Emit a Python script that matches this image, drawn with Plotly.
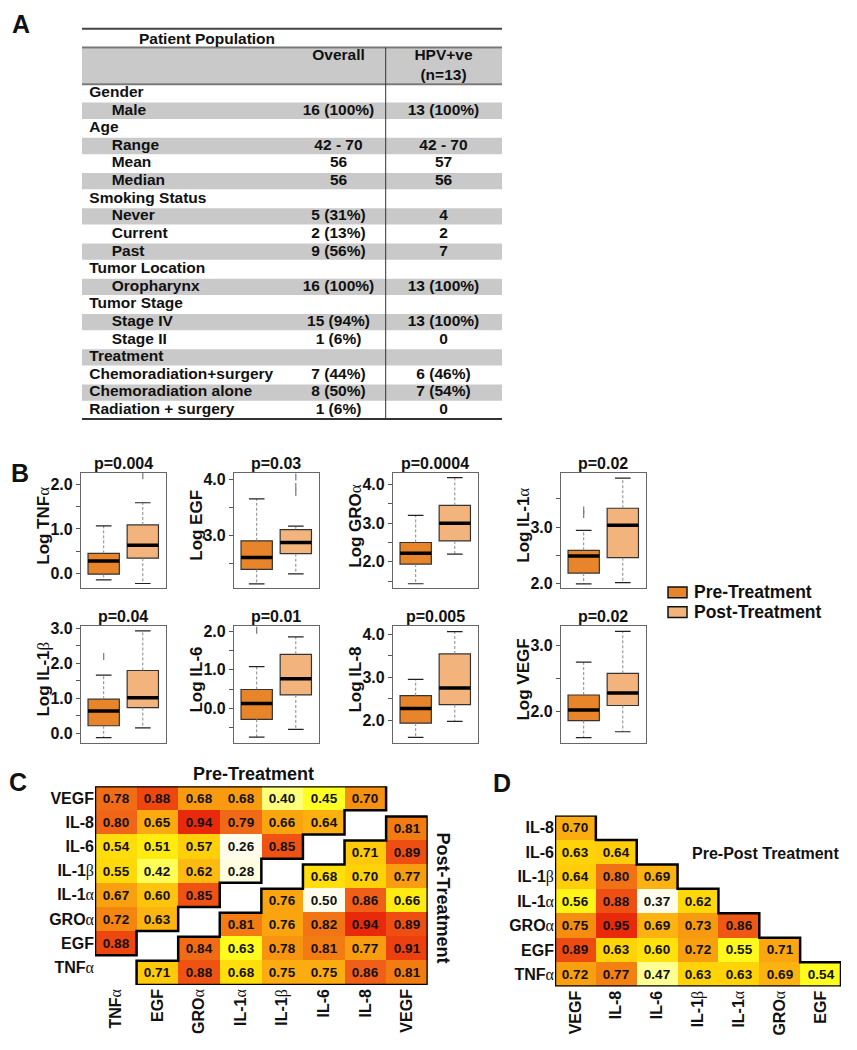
import plotly.graph_objects as go
from collections import defaultdict

W, H = 857, 1050
FONT = "Liberation Sans, Arial, sans-serif"
INK = "#111111"

# ---------------- data: panel A table ----------------
table_title = "Patient Population"
table_headers = ["Overall", "HPV+ve<br>(n=13)"]
table_labels = ["Gender", "Male", "Age", "Range", "Mean", "Median", "Smoking Status",
                "Never", "Current", "Past", "Tumor Location", "Oropharynx", "Tumor Stage",
                "Stage IV", "Stage II", "Treatment", "Chemoradiation+surgery",
                "Chemoradiation alone", "Radiation + surgery"]
table_indent = [0, 1, 0, 1, 1, 1, 0, 1, 1, 1, 0, 1, 0, 1, 1, 0, 0, 0, 0]
table_overall = ["", "16 (100%)", "", "42 - 70", "56", "56", "", "5 (31%)", "2 (13%)",
                 "9 (56%)", "", "16 (100%)", "", "15 (94%)", "1 (6%)", "", "7 (44%)",
                 "8 (50%)", "1 (6%)"]
table_hpv = ["", "13 (100%)", "", "42 - 70", "57", "56", "", "4", "2", "7", "",
             "13 (100%)", "", "13 (100%)", "0", "", "6 (46%)", "7 (54%)", "0"]

# ---------------- data: panel B box plots ----------------
box_names = ["TNFα", "EGF", "GROα", "IL-1α", "IL-1β", "IL-6", "IL-8", "VEGF"]
p_values = ["0.004", "0.03", "0.0004", "0.02", "0.04", "0.01", "0.005", "0.02"]
pre_low = [-0.15, 2.14, 1.43, 2.00, -0.12, -0.74, 1.60, 1.60]
pre_q1 = [-0.02, 2.40, 1.94, 2.19, 0.22, -0.28, 1.93, 1.86]
pre_med = [0.28, 2.61, 2.22, 2.49, 0.64, 0.13, 2.27, 2.02]
pre_q3 = [0.45, 2.91, 2.50, 2.59, 0.98, 0.49, 2.57, 2.25]
pre_high = [1.07, 3.66, 3.20, 2.94, 1.67, 1.08, 2.95, 2.75]
pre_out = [[], [], [], [3.22, 3.30], [2.20], [2.02], [], []]
post_low = [-0.23, 2.32, 2.20, 2.02, 0.16, -0.54, 1.97, 1.69]
post_q1 = [0.34, 2.68, 2.54, 2.46, 0.74, 0.35, 2.36, 2.09]
post_med = [0.63, 2.88, 3.00, 3.03, 1.02, 0.77, 2.75, 2.28]
post_q3 = [1.09, 3.11, 3.46, 3.33, 1.80, 1.40, 3.54, 2.58]
post_high = [1.59, 3.17, 4.18, 3.86, 2.93, 1.85, 4.06, 3.22]
post_out = [[2.20], [3.77, 3.88, 4.05], [], [], [], [], [], []]
y_ranges = [[-0.34, 2.26], [2.06, 4.12], [1.31, 4.30], [1.92, 3.95],
            [-0.27, 3.07], [-0.89, 2.13], [1.47, 4.19], [1.52, 3.30]]
y_ticks = [[0, 0.5, 1, 1.5, 2], [2.5, 3, 3.5, 4], [1.5, 2, 2.5, 3, 3.5, 4], [2, 2.5, 3, 3.5],
           [0, 0.5, 1, 1.5, 2, 2.5, 3], [-0.5, 0, 0.5, 1, 1.5, 2], [2, 2.5, 3, 3.5, 4],
           [2, 2.5, 3]]
groups = ["Pre-Treatment", "Post-Treatment"]

# ---------------- data: panel C correlation ----------------
c_names = ["TNFα", "EGF", "GROα", "IL-1α", "IL-1β", "IL-6", "IL-8", "VEGF"]
# pre-treatment (rows bottom->top, columns left of diagonal)
pre_corr = [
    [],
    [0.88],
    [0.72, 0.63],
    [0.67, 0.60, 0.85],
    [0.55, 0.42, 0.62, 0.28],
    [0.54, 0.51, 0.57, 0.26, 0.85],
    [0.80, 0.65, 0.94, 0.79, 0.66, 0.64],
    [0.78, 0.88, 0.68, 0.68, 0.40, 0.45, 0.70],
]
# post-treatment (rows bottom->top, columns right of diagonal)
post_corr = [
    [0.71, 0.88, 0.68, 0.75, 0.75, 0.86, 0.81],
    [0.84, 0.63, 0.78, 0.81, 0.77, 0.91],
    [0.81, 0.76, 0.82, 0.94, 0.89],
    [0.76, 0.50, 0.86, 0.66],
    [0.68, 0.70, 0.77],
    [0.71, 0.89],
    [0.81],
    [],
]

# ---------------- data: panel D pre-post correlation ----------------
d_cols = ["VEGF", "IL-8", "IL-6", "IL-1β", "IL-1α", "GROα", "EGF"]
d_rows = ["TNFα", "EGF", "GROα", "IL-1α", "IL-1β", "IL-6", "IL-8"]  # bottom->top
d_corr = [
    [0.72, 0.77, 0.47, 0.63, 0.63, 0.69, 0.54],
    [0.89, 0.63, 0.60, 0.72, 0.55, 0.71],
    [0.75, 0.95, 0.69, 0.73, 0.86],
    [0.56, 0.88, 0.37, 0.62],
    [0.64, 0.80, 0.69],
    [0.63, 0.64],
    [0.70],
]

# ---------------- helpers ----------------
def fx(p):
    return p / W


def fy(p):
    return 1 - p / H


def G(s):
    for ch in "αβ":
        s = s.replace(ch, '<span style="font-family:Liberation Serif;font-weight:normal">' + ch + '</span>')
    return s


def bfont(size, color=INK):
    return dict(family=FONT, size=size, color=color, weight="bold")


def axkey(k, a):
    return f"{a}axis" if k == 1 else f"{a}axis{k}"


def axref(k, a):
    return a if k == 1 else f"{a}{k}"


fig = go.Figure()
layout = dict(width=W, height=H, margin=dict(l=0, r=0, t=0, b=0),
              paper_bgcolor="white", plot_bgcolor="rgba(0,0,0,0)", showlegend=False,
              shapes=[], annotations=[])


def ann(text, x, y, size, angle=0, xanchor="center"):
    layout["annotations"].append(dict(text=text, x=fx(x), y=fy(y), xref="paper", yref="paper",
                                      showarrow=False, font=bfont(size), textangle=angle,
                                      xanchor=xanchor, yanchor="middle"))


def hline(x0, x1, y, width, color):
    layout["shapes"].append(dict(type="line", xref="paper", yref="paper", x0=fx(x0), x1=fx(x1),
                                 y0=fy(y), y1=fy(y), line=dict(color=color, width=width)))


# ---------------- Panel A: table ----------------
T_L, T_R, T_TOP, T_HEAD, T_HEAD_END, T_BOT = 82, 502, 23, 42, 79, 417
layout["xaxis"] = dict(domain=[fx(T_L), fx(T_R)], range=[0, T_R - T_L], visible=False)
layout["yaxis"] = dict(domain=[fy(T_BOT), fy(T_HEAD)], range=[T_BOT, T_HEAD], visible=False)
n_rows = len(table_labels)
rh = (T_BOT - T_HEAD_END) / n_rows
centers = [T_HEAD_END + rh * (i + 0.5) for i in range(n_rows)]
shade_y = [(T_HEAD + T_HEAD_END) / 2] + [centers[i] for i in range(n_rows) if i % 2 == 1]
shade_w = [T_HEAD_END - T_HEAD - 1.5] + [rh - 1.2 for i in range(n_rows) if i % 2 == 1]
fig.add_trace(go.Bar(x=[T_R - T_L] * len(shade_y), y=shade_y, base=0, width=shade_w,
                     orientation="h", marker=dict(color="#C9C9C9", line=dict(width=0)),
                     xaxis="x", yaxis="y", hoverinfo="skip"))
COL1, COL2 = 338.5 - T_L, 443.5 - T_L
fig.add_trace(go.Scatter(x=[7.3 if ind == 0 else 29.7 for ind in table_indent], y=centers,
                         text=table_labels, mode="text", textposition="middle right",
                         textfont=bfont(15.5), xaxis="x", yaxis="y", hoverinfo="skip"))
fig.add_trace(go.Scatter(x=[COL1] * n_rows + [COL2] * n_rows, y=centers + centers,
                         text=table_overall + table_hpv, mode="text", textposition="middle center",
                         textfont=bfont(15.5), xaxis="x", yaxis="y", hoverinfo="skip"))
fig.add_trace(go.Scatter(x=[COL1, COL2], y=[51, 60.5], text=table_headers, mode="text",
                         textposition="middle center", textfont=bfont(15.5),
                         xaxis="x", yaxis="y", hoverinfo="skip"))
ann(table_title, 207, 32.5, 15.5)
hline(T_L, T_R, T_TOP, 2, "#444444")
hline(T_L, T_R, T_HEAD, 2, "#777777")
hline(T_L, T_R, T_HEAD_END, 2, "#777777")
hline(T_L, T_R, T_BOT, 2, "#333333")
layout["shapes"].append(dict(type="line", xref="paper", yref="paper", x0=fx(385.7), x1=fx(385.7),
                             y0=fy(T_HEAD), y1=fy(T_BOT), line=dict(color="#333333", width=1)))

# ---------------- Panel B: box plots ----------------
col_left = [81, 234, 393, 561]
PW = 84.5
row_tb = [(471.5, 588), (626, 744)]
PRE_C, POST_C = "#E8852A", "#F2B47C"
for i, name in enumerate(box_names):
    k = 2 + i
    r, c = divmod(i, 4)
    x0, x1 = col_left[c], col_left[c] + PW
    t, b = row_tb[r]
    xa, ya = axref(k, "x"), axref(k, "y")
    layout[axkey(k, "x")] = dict(domain=[fx(x0), fx(x1)], range=[-0.58, 1.58], showticklabels=False,
                                 ticks="", showgrid=False, zeroline=False, showline=True, mirror=True,
                                 linecolor="#666666", linewidth=1.3, anchor=ya)
    layout[axkey(k, "y")] = dict(domain=[fy(b), fy(t)], range=y_ranges[i], tickmode="array",
                                 tickvals=y_ticks[i],
                                 ticktext=[f"{v:.1f}" if float(v).is_integer() else "" for v in y_ticks[i]],
                                 ticks="outside", ticklen=4, tickcolor="#555555", tickwidth=1,
                                 tickfont=bfont(16), showgrid=False, zeroline=False, showline=True,
                                 mirror=True, linecolor="#666666", linewidth=1.3, anchor=xa)
    stats = [(pre_low[i], pre_q1[i], pre_med[i], pre_q3[i], pre_high[i], pre_out[i], PRE_C),
             (post_low[i], post_q1[i], post_med[i], post_q3[i], post_high[i], post_out[i], POST_C)]
    for pos, (lo, q1, md, q3, hi, outs, colr) in enumerate(stats):
        fig.add_trace(go.Scatter(x=[pos, pos, None, pos, pos], y=[q3, hi, None, q1, lo], mode="lines",
                                 line=dict(color="#888888", width=1, dash="3px,2px"),
                                 xaxis=xa, yaxis=ya, hoverinfo="skip"))
        fig.add_trace(go.Box(x=[pos], q1=[q1], median=[md], q3=[q3], lowerfence=[q1], upperfence=[q3],
                             width=0.8, fillcolor=colr, line=dict(color="#333333", width=1.2),
                             boxpoints=False, name=groups[pos], xaxis=xa, yaxis=ya, hoverinfo="skip"))
        fig.add_trace(go.Scatter(x=[pos - 0.4, pos + 0.4], y=[md, md], mode="lines",
                                 line=dict(color="black", width=3.5), xaxis=xa, yaxis=ya, hoverinfo="skip"))
        fig.add_trace(go.Scatter(x=[pos - 0.2, pos + 0.2, None, pos - 0.2, pos + 0.2],
                                 y=[hi, hi, None, lo, lo], mode="lines",
                                 line=dict(color="#222222", width=1.2), xaxis=xa, yaxis=ya, hoverinfo="skip"))
        if outs:
            fig.add_trace(go.Scatter(x=[pos] * len(outs), y=outs, mode="markers",
                                     marker=dict(symbol="line-ns", size=5,
                                                 line=dict(color="#777777", width=1.2)),
                                     xaxis=xa, yaxis=ya, hoverinfo="skip"))
    ann("p=" + p_values[i], (x0 + x1) / 2, t - 10, 16)
    ann(G("Log " + name), x0 - 37, (t + b) / 2 - 5, 17, angle=-90)

# legend
for j, (yy, colr) in enumerate([(592, PRE_C), (612, POST_C)]):
    layout["shapes"].append(dict(type="rect", xref="paper", yref="paper", x0=fx(668), x1=fx(687),
                                 y0=fy(yy + 5.5), y1=fy(yy - 5.5), fillcolor=colr,
                                 line=dict(color="#111111", width=1.5)))
    ann(groups[j], 692, yy, 17.5, xanchor="left")

# ---------------- heatmaps ----------------
CSCALE = [[0.0, "#FFFCEC"], [0.1, "#FFFFC4"], [0.2, "#FFFF80"], [0.28, "#FFFF22"],
          [0.37, "#FFEA10"], [0.45, "#FFD208"], [0.53, "#FDBA10"], [0.62, "#F89A10"],
          [0.7, "#F27C12"], [0.8, "#F06418"], [0.9, "#EE4A10"], [1.0, "#E82A0A"]]


def outline(mask):
    edges = []
    nr, nc = len(mask), len(mask[0])
    for r in range(nr):
        for c in range(nc):
            if not mask[r][c]:
                continue
            def filled(rr, cc):
                return 0 <= rr < nr and 0 <= cc < nc and mask[rr][cc]
            if not filled(r - 1, c):
                edges.append(((c - 0.5, r - 0.5), (c + 0.5, r - 0.5)))
            if not filled(r + 1, c):
                edges.append(((c - 0.5, r + 0.5), (c + 0.5, r + 0.5)))
            if not filled(r, c - 1):
                edges.append(((c - 0.5, r - 0.5), (c - 0.5, r + 0.5)))
            if not filled(r, c + 1):
                edges.append(((c + 0.5, r - 0.5), (c + 0.5, r + 0.5)))
    adj = defaultdict(list)
    for a, b2 in edges:
        adj[a].append(b2)
        adj[b2].append(a)
    start = edges[0][0]
    path = [start]
    prev, cur = None, start
    while True:
        cands = [p for p in adj[cur] if p != prev]
        nxt = cands[0]
        path.append(nxt)
        if nxt == start:
            break
        prev, cur = cur, nxt
    return [p[0] for p in path], [p[1] for p in path]


def add_heat(xa, ya, z, zmin, zmax):
    txt = [["" if v is None else f"{v:.2f}" for v in row] for row in z]
    fig.add_trace(go.Heatmap(z=z, text=txt, texttemplate="<b>%{text}</b>",
                             textfont=dict(family=FONT, size=13.5, color=INK),
                             colorscale=CSCALE, zmin=zmin, zmax=zmax, showscale=False,
                             xaxis=xa, yaxis=ya, hoverinfo="skip"))
    mask = [[v is not None for v in row] for row in z]
    ox, oy = outline(mask)
    fig.add_trace(go.Scatter(x=ox, y=oy, mode="lines", line=dict(color="black", width=2.5),
                             xaxis=xa, yaxis=ya, hoverinfo="skip"))


def vals(mat):
    return [v for row in mat for v in row]


def heat_axes(k, xdom, ydom, xlabels, ylabels, show_x=True, show_y=True):
    nx_, ny_ = len(xlabels), len(ylabels)
    layout[axkey(k, "x")] = dict(domain=xdom, range=[-0.5, nx_ - 0.5], tickmode="array",
                                 tickvals=list(range(nx_)), ticktext=[G(s) for s in xlabels],
                                 tickangle=-90, tickfont=bfont(16), showgrid=False, zeroline=False,
                                 showline=False, ticks="", showticklabels=show_x, anchor=axref(k, "y"))
    layout[axkey(k, "y")] = dict(domain=ydom, range=[-0.5, ny_ - 0.5], tickmode="array",
                                 tickvals=list(range(ny_)), ticktext=[G(s) for s in ylabels],
                                 tickfont=bfont(16), showgrid=False, zeroline=False, showline=False,
                                 ticks="", showticklabels=show_y, anchor=axref(k, "x"))


# Panel C (post-treatment triangle sits a few pixels lower, as in the original figure)
n = len(c_names)
z_pre = [[None] * n for _ in range(n)]
z_post = [[None] * n for _ in range(n)]
for r in range(n):
    for j, v in enumerate(pre_corr[r]):
        z_pre[r][j] = v
    for j, v in enumerate(post_corr[r]):
        z_post[r][r + 1 + j] = v
kC, kC2 = 10, 12
heat_axes(kC, [fx(95), fx(427.7)], [fy(982.7), fy(787.7)], c_names, c_names, show_x=False)
heat_axes(kC2, [fx(95), fx(427.7)], [fy(988.3), fy(794.0)], c_names, c_names, show_y=False)
add_heat(axref(kC, "x"), axref(kC, "y"), z_pre, min(vals(pre_corr)), max(vals(pre_corr)))
add_heat(axref(kC2, "x"), axref(kC2, "y"), z_post, min(vals(post_corr)), max(vals(post_corr)))
ann("Pre-Treatment", 253, 775, 18)
ann("Post-Treatment", 443, 900, 18, angle=90)

# Panel D
nr, nc = len(d_rows), len(d_cols)
z_d = [[None] * nc for _ in range(nr)]
for r in range(nr):
    for j, v in enumerate(d_corr[r]):
        z_d[r][j] = v
kD = 11
heat_axes(kD, [fx(555), fx(841)], [fy(990), fy(817.3)], d_cols, d_rows)
add_heat(axref(kD, "x"), axref(kD, "y"), z_d, min(vals(d_corr)), max(vals(d_corr)))
ann("Pre-Post Treatment", 765, 856, 16)

# panel letters
ann("A", 21, 18.5, 25)
ann("B", 20, 471, 25)
ann("C", 18, 783, 25)
ann("D", 502, 784, 25)

fig.update_layout(**layout)
fig.write_html("out.html", config={"displayModeBar": False},
               post_script="document.body.style.margin='0px';")
